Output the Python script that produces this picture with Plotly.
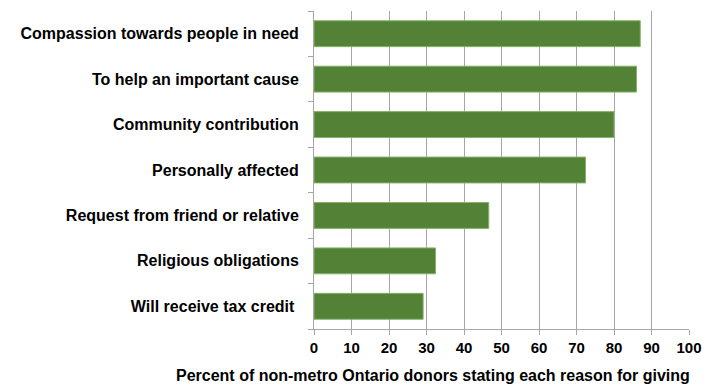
import plotly.graph_objects as go

# Reasons for giving, listed top to bottom
reasons = [
    "Compassion towards people in need",
    "To help an important cause",
    "Community contribution",
    "Personally affected",
    "Request from friend or relative",
    "Religious obligations",
    "Will receive tax credit\u00a0",
]
percent = [87.0, 86.0, 80.0, 72.4, 46.6, 32.4, 29.1]

x_ticks = list(range(0, 101, 10))

FONT = "Liberation Sans, Arial, sans-serif"
GRID = "#a6a6a6"

fig = go.Figure(
    go.Bar(
        x=percent,
        y=reasons,
        orientation="h",
        marker=dict(color="#538135", line=dict(color="#86b36a", width=1)),
        width=0.57,
        hoverinfo="x+y",
    )
)

fig.update_layout(
    width=715,
    height=385,
    margin=dict(l=314, r=26, t=11, b=56),
    paper_bgcolor="white",
    plot_bgcolor="white",
    showlegend=False,
    font=dict(family=FONT, color="black"),
    xaxis=dict(
        range=[0, 100],
        tickvals=x_ticks,
        ticktext=[str(v) for v in x_ticks],
        showgrid=True,
        gridcolor=GRID,
        gridwidth=1,
        showline=True,
        linecolor=GRID,
        linewidth=1,
        ticks="outside",
        ticklen=5,
        tickcolor=GRID,
        tickfont=dict(size=15, family=FONT, color="black", weight="bold"),
        zeroline=False,
        fixedrange=True,
    ),
    yaxis=dict(
        categoryorder="array",
        categoryarray=reasons[::-1],
        showgrid=False,
        showline=True,
        linecolor=GRID,
        linewidth=1,
        ticks="outside",
        tickson="boundaries",
        ticklen=5,
        tickcolor=GRID,
        ticklabelstandoff=11,
        tickfont=dict(size=16, family=FONT, color="black", weight="bold"),
        fixedrange=True,
    ),
    annotations=[
        dict(
            text="Percent of non-metro Ontario donors stating each reason for giving",
            xref="paper",
            yref="paper",
            x=(433 - 314) / (689 - 314),
            y=-(375 - 329) / 318,
            xanchor="center",
            yanchor="middle",
            showarrow=False,
            font=dict(size=16, family=FONT, color="black", weight="bold"),
        )
    ],
)

fig.write_html("out.html")
